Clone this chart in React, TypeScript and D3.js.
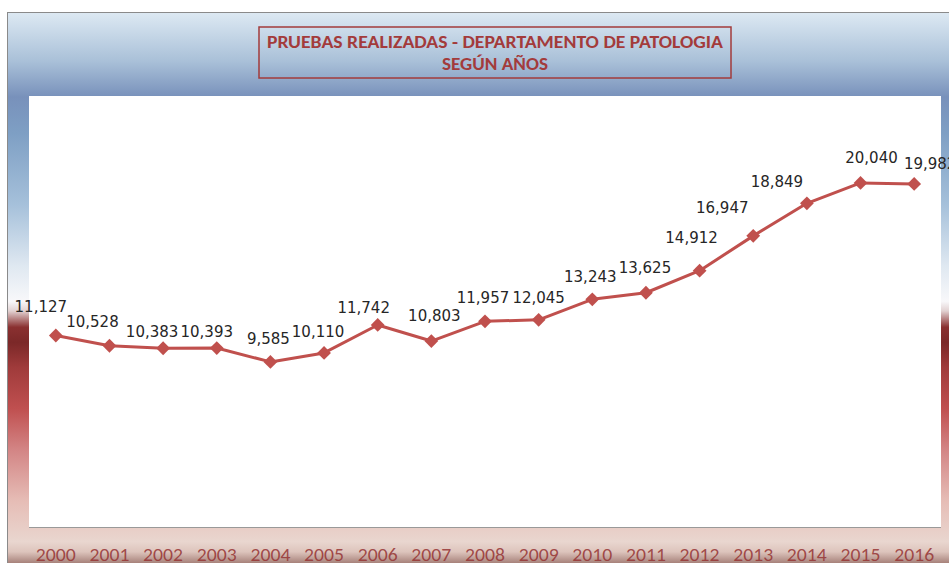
import React from "react";
import * as d3 from "d3";

const years = ["2000", "2001", "2002", "2003", "2004", "2005", "2006", "2007", "2008",
  "2009", "2010", "2011", "2012", "2013", "2014", "2015", "2016"];
const pruebas = [11127, 10528, 10383, 10393, 9585, 10110, 11742, 10803, 11957,
  12045, 13243, 13625, 14912, 16947, 18849, 20040, 19982];
// label nudges (dx, dy from the marker), as they were placed by hand in the original
const labelNudge = [[-15, -24], [-17, -19], [-11, -11], [-10, -11], [-2, -18], [-6, -16],
  [-14, -12], [3, -20], [-2, -18], [0, -17], [-2, -17], [-1, -20], [-8, -28], [-31, -23],
  [-30, -16], [11, -20], [16, -15]];
const titleLines = ["PRUEBAS REALIZADAS - DEPARTAMENTO DE PATOLOGIA", "SEGÚN AÑOS"];
const titleWidths = [456, 106];

const W = 949;
const H = 563;
const plot = { left: 29, right: 941, top: 96, bottom: 527 };

const frameStops: [number, string][] = [
  [0, "#dde9f3"], [0.087, "#a9c0d8"], [0.15, "#7891bb"], [0.214, "#7e9fc4"],
  [0.34, "#a5c0da"], [0.45, "#dfe8f1"], [0.513, "#f8f8fa"], [0.53, "#e2d2d2"],
  [0.559, "#8a3030"], [0.586, "#7b2828"], [0.631, "#a03b3b"], [0.704, "#c05050"],
  [0.777, "#d38585"], [0.868, "#e6bdb6"], [0.94, "#e9d6cf"], [0.958, "#ddc4bc"],
  [1, "#6b3832"],
];

const App = () => {
  const x = d3.scalePoint<string>().domain(years).range([plot.left, plot.right]).padding(0.5);
  const y = d3.scaleLinear().domain([0, 25000]).range([plot.bottom - 1, plot.bottom - 1 - 428]);
  const fmt = d3.format(",");

  const line = d3
    .line<number>()
    .x((_, i) => x(years[i]) as number)
    .y((d) => y(d));
  const diamond = d3.symbol().type(d3.symbolSquare).size(95)();

  return (
    <svg width={W} height={H} style={{ position: "absolute", left: 0, top: 0 }}>
      <defs>
        <linearGradient id="frameGrad" x1="0" y1="0" x2="0" y2="1">
          {frameStops.map(([o, c]) => (
            <stop key={o} offset={o} stopColor={c} />
          ))}
        </linearGradient>
      </defs>
      <rect x={0} y={0} width={W} height={H} fill="#fff" />
      <rect x={7.5} y={12.5} width={W} height={H} fill="url(#frameGrad)" stroke="#8a8a8a" />

      <rect x={259} y={27} width={472} height={51} fill="none" stroke="#a33b3b" strokeWidth={1.5} />
      {titleLines.map((t, i) => (
        <text
          key={t}
          x={(259 + 731) / 2}
          y={48 + i * 22}
          textAnchor="middle"
          fontFamily="Carlito, Lato, sans-serif"
          fontWeight="bold"
          fontSize={17}
          fill="#a33b3b"
          textLength={titleWidths[i]}
          lengthAdjust="spacingAndGlyphs"
        >
          {t}
        </text>
      ))}

      <rect x={plot.left} y={plot.top} width={plot.right - plot.left} height={plot.bottom - plot.top} fill="#fff" />
      <line x1={plot.left} x2={plot.right} y1={plot.bottom + 0.5} y2={plot.bottom + 0.5} stroke="#999" />

      {years.map((yr) => (
        <text
          key={yr}
          x={x(yr)}
          y={561}
          textAnchor="middle"
          fontFamily="Carlito, Lato, sans-serif"
          fontSize={19}
          fill="#963434"
          fillOpacity={0.85}
          textLength={40}
          lengthAdjust="spacingAndGlyphs"
        >
          {yr}
        </text>
      ))}

      <path d={line(pruebas) || ""} fill="none" stroke="#c0504d" strokeWidth={3} strokeLinejoin="round" />
      {pruebas.map((v, i) => (
        <path
          key={i}
          d={diamond || ""}
          transform={`translate(${x(years[i])},${y(v)}) rotate(45)`}
          fill="#c0504d"
        />
      ))}
      {pruebas.map((v, i) => (
        <text
          key={i}
          x={(x(years[i]) as number) + labelNudge[i][0]}
          y={y(v) + labelNudge[i][1]}
          textAnchor="middle"
          fontFamily="DejaVu Sans, sans-serif"
          fontSize={15}
          fill="#262626"
        >
          {fmt(v)}
        </text>
      ))}
    </svg>
  );
};

export default App;
